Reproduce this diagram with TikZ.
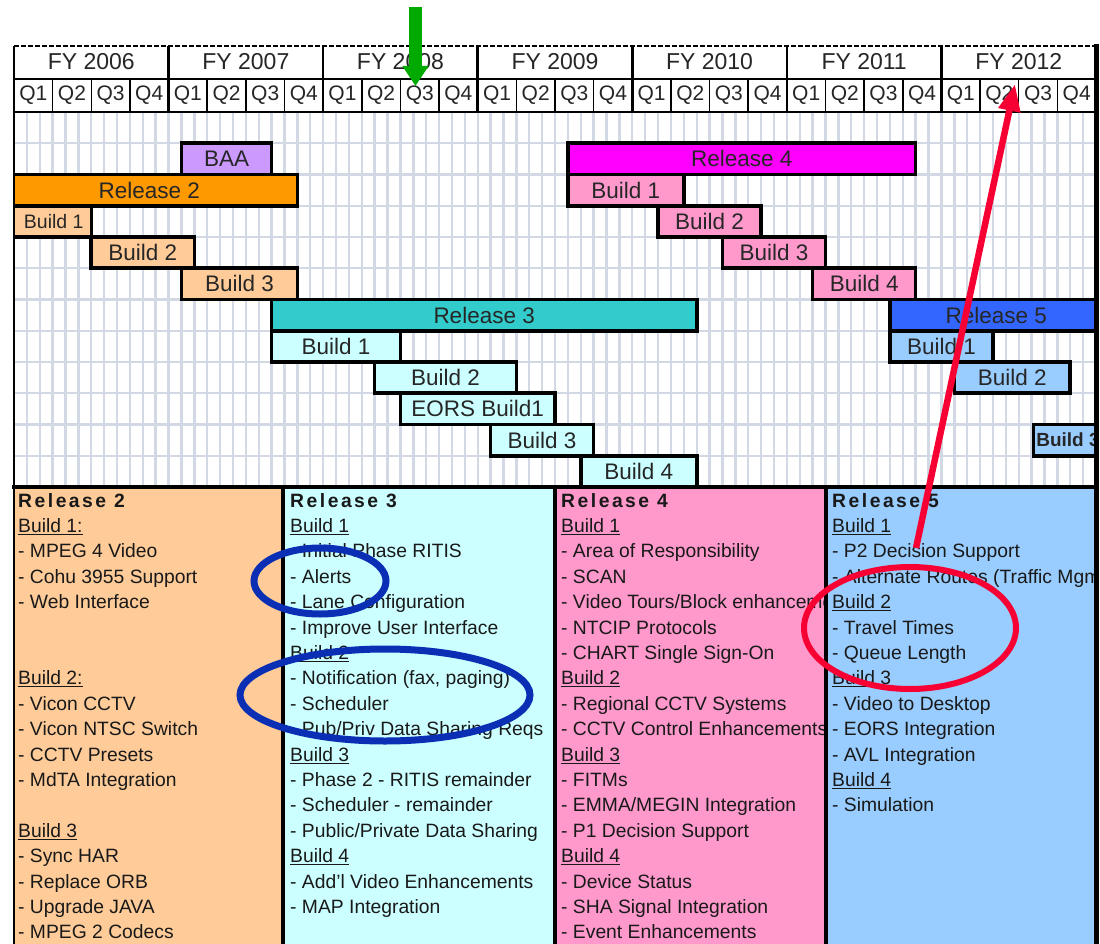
\documentclass[tikz,border=0pt]{standalone}
\usepackage{fontspec}
\setmainfont{Liberation Sans}
\newfontfamily\hdrfont[LetterSpace=13]{Liberation Sans}
\usetikzlibrary{arrows.meta}
\definecolor{rtwo}{HTML}{FF9900}
\definecolor{rtwob}{HTML}{FFCC99}
\definecolor{baa}{HTML}{CC99FF}
\definecolor{rthree}{HTML}{33CCCC}
\definecolor{rthreeb}{HTML}{CCFFFF}
\definecolor{rfour}{HTML}{FF00FF}
\definecolor{rfourb}{HTML}{FF99CC}
\definecolor{rfive}{HTML}{3366FF}
\definecolor{rfiveb}{HTML}{99CCFF}
\definecolor{gridc}{HTML}{D2D9E5}
\definecolor{arrowgreen}{HTML}{00AA00}
\definecolor{markred}{HTML}{F70033}
\definecolor{markblue}{HTML}{0A2FB5}
\newcommand\gbar[6]{%
  \pgfmathsetmacro\gbxa{14+12.881*#2}%
  \pgfmathsetmacro\gbxb{14+12.881*#3}%
  \pgfmathsetmacro\gbw{\gbxb-\gbxa}%
  \pgfmathsetmacro\gbx{(\gbxa+\gbxb)/2}%
  \pgfmathsetmacro\gby{112+31.25*(#4+0.5)}%
  \node[ganttbar, fill=#5, minimum width=\gbw pt] (#1) at (\gbx,\gby) {#6};}
\begin{document}
\begin{tikzpicture}[x=1pt,y=-1pt,
  gridline/.style={draw=gridc, line width=2.4pt},
  ganttbar/.style={draw=black, line width=3.6pt, minimum height=31.25pt, inner sep=0pt,
     font=\fontsize{22.5}{24}\selectfont, text=black!85},
  fylabel/.style={font=\fontsize{23}{25}\selectfont, text=black!85, inner sep=0pt},
  qlabel/.style={font=\fontsize{21}{23}\selectfont, text=black!85, inner sep=0pt},
  coltext/.style={anchor=north west, align=left, inner sep=0pt,
     font=\fontsize{19.3}{25.4}\selectfont, text=black!90},
  thinrule/.style={draw=black, line width=1.5pt},
  thickrule/.style={draw=black, line width=4pt}]
\useasboundingbox (0,0) rectangle (1100,944);
\fill[white] (0,0) rectangle (1100,944);

% ---------- grid area ----------
\foreach \m in {1,...,83} \draw[gridline] ({14+12.881*\m},112) -- ({14+12.881*\m},487);
\foreach \r in {1,...,11} \draw[gridline] (14,{112+31.25*\r}) -- (1096,{112+31.25*\r});

\begin{scope}
\clip (14,100) rectangle (1096,489);
\gbar{baa}{13}{20}{1}{baa}{BAA}
\gbar{rtwo}{-1}{22}{2}{rtwo}{Release 2}
\node[ganttbar, fill=rtwob, minimum width=90pt, font=\fontsize{19.5}{21}\selectfont] (rtwobone) at (46.3,221.6) {\hspace*{15pt}Build 1};
\gbar{rtwobtwo}{6}{14}{4}{rtwob}{Build 2}
\gbar{rtwobthree}{13}{22}{5}{rtwob}{Build 3}
\gbar{rthree}{20}{53}{6}{rthree}{Release 3}
\gbar{rthreebone}{20}{30}{7}{rthreeb}{Build 1}
\gbar{rthreebtwo}{28}{39}{8}{rthreeb}{Build 2}
\gbar{eors}{30}{42}{9}{rthreeb}{EORS Build1}
\gbar{rthreebthree}{37}{45}{10}{rthreeb}{Build 3}
\gbar{rthreebfour}{44}{53}{11}{rthreeb}{Build 4}
\gbar{rfour}{43}{70}{1}{rfour}{Release 4}
\gbar{rfourbone}{43}{52}{2}{rfourb}{Build 1}
\gbar{rfourbtwo}{50}{58}{3}{rfourb}{Build 2}
\gbar{rfourbthree}{55}{63}{4}{rfourb}{Build 3}
\gbar{rfourbfour}{62}{70}{5}{rfourb}{Build 4}
\gbar{rfive}{68}{84.5}{6}{rfive}{Release 5}
\gbar{rfivebone}{68}{76}{7}{rfiveb}{Build 1}
\gbar{rfivebtwo}{73}{82}{8}{rfiveb}{Build 2}
\node[ganttbar, fill=rfiveb, anchor=west, font=\fontsize{19}{21}\selectfont\bfseries]
  (rfivebthree) at (1031.5,440.1) {\makebox[80pt][l]{\hspace*{3pt}Build 3}};
\end{scope}

% ---------- header ----------
\fill[white] (14,46) rectangle (1096,112);
\draw[dashed, line width=1.2pt, dash pattern=on 5pt off 2pt] (14,46) -- (1096,46);
\draw[thinrule] (14,79) -- (1096,79);
\draw[draw=black, line width=2pt] (14,112) -- (1096,112);
\foreach \q in {1,...,27} {
  \pgfmathtruncatemacro\qm{mod(\q,4)}
  \ifnum\qm=0
    \draw[draw=black, line width=2.5pt] ({14+38.643*\q},46) -- ({14+38.643*\q},112);
  \else
    \draw[thinrule] ({14+38.643*\q},79) -- ({14+38.643*\q},112);
  \fi
}
\foreach \y [count=\i from 0] in {2006,2007,2008,2009,2010,2011,2012}
  \node[fylabel] (fy\y) at ({14+154.571*(\i+0.5)},61.5) {FY \y};
\foreach \q [count=\i from 0] in {1,...,28} {
  \pgfmathtruncatemacro\qn{mod(\q-1,4)+1}
  \node[qlabel] (q\q) at ({14+38.643*(\i+0.5)},95) {Q\qn};
}

% ---------- lower columns ----------
\fill[rtwob] (14,487) rectangle (283,944);
\fill[rthreeb] (283,487) rectangle (555,944);
\fill[rfourb] (555,487) rectangle (826,944);
\fill[rfiveb] (826,487) rectangle (1096,944);

\begin{scope}
\clip (14,487) rectangle (281,944);
\node[coltext] (colone) at (18,493) {{\hdrfont\bfseries Release 2}\\
\underline{Build 1:}\\
- MPEG 4 Video\\
- Cohu 3955 Support\\
- Web Interface\\
\mbox{}\\
\mbox{}\\
\underline{Build 2:}\\
- Vicon CCTV\\
- Vicon NTSC Switch\\
- CCTV Presets\\
- MdTA Integration\\
\mbox{}\\
\underline{Build 3}\\
- Sync HAR\\
- Replace ORB\\
- Upgrade JAVA\\
- MPEG 2 Codecs};
\end{scope}
\begin{scope}
\clip (285,487) rectangle (553,944);
\node[coltext] (coltwo) at (290,493) {{\hdrfont\bfseries Release 3}\\
\underline{Build 1}\\
- Initial Phase RITIS\\
- Alerts\\
- Lane Configuration\\
- Improve User Interface\\
\underline{Build 2}\\
- Notification (fax, paging)\\
- Scheduler\\
- Pub/Priv Data Sharing Reqs\\
\underline{Build 3}\\
- Phase 2 - RITIS remainder\\
- Scheduler - remainder\\
- Public/Private Data Sharing\\
\underline{Build 4}\\
- Add'l Video Enhancements\\
- MAP Integration};
\end{scope}
\begin{scope}
\clip (557,487) rectangle (826,944);
\node[coltext] (colthree) at (561,493) {{\hdrfont\bfseries Release 4}\\
\underline{Build 1}\\
- Area of Responsibility\\
- SCAN\\
- Video Tours/Block enhancements\\
- NTCIP Protocols\\
- CHART Single Sign-On\\
\underline{Build 2}\\
- Regional CCTV Systems\\
- CCTV Control Enhancements\\
\underline{Build 3}\\
- FITMs\\
- EMMA/MEGIN Integration\\
- P1 Decision Support\\
\underline{Build 4}\\
- Device Status\\
- SHA Signal Integration\\
- Event Enhancements};
\end{scope}
\begin{scope}
\clip (828,487) rectangle (1096,944);
\node[coltext] (colfour) at (832,493) {{\hdrfont\bfseries Release 5}\\
\underline{Build 1}\\
- P2 Decision Support\\
- Alternate Routes (Traffic Mgmt)\\
\underline{Build 2}\\
- Travel Times\\
- Queue Length\\
\underline{Build 3}\\
- Video to Desktop\\
- EORS Integration\\
- AVL Integration\\
\underline{Build 4}\\
- Simulation};
\end{scope}

\draw[thickrule] (12,487) -- (1098,487);
\draw[thickrule] (283,487) -- (283,944);
\draw[thickrule] (555,487) -- (555,944);
\draw[thickrule] (826,487) -- (826,944);
\draw[draw=black, line width=5pt] (1096,44) -- (1096,944);
\draw[thinrule] (14,46) -- (14,944);

% ---------- annotations ----------
\coordinate (greentop) at (415.5,7);
\coordinate (greentip) at (415.5,86);
\draw[arrowgreen, line width=13pt, -{Triangle[width=25pt,length=20pt]}] (greentop) -- (greentip);

\draw[markblue, line width=7pt] (320,581) ellipse [x radius=66, y radius=33];
\draw[markblue, line width=7pt] (385,695) ellipse [x radius=145, y radius=46];
\draw[markred, line width=6pt] (910,628) ellipse [x radius=106, y radius=61];

\coordinate (redstart) at (916,548);
\coordinate (redtip) at (1015,84);
\draw[markred, line width=6.5pt, -{Triangle[width=21pt,length=27pt]}] (redstart) -- (redtip);
\end{tikzpicture}
\end{document}
